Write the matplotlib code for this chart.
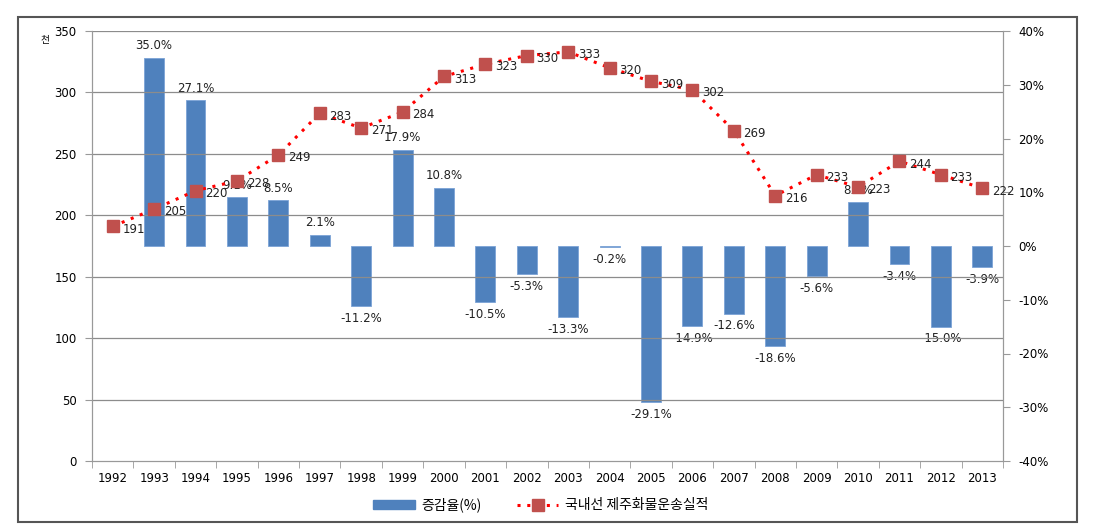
import matplotlib.pyplot as plt
import matplotlib.patches as mpatches
from matplotlib.lines import Line2D
import numpy as np

years = ['1992', '1993', '1994', '1995', '1996', '1997', '1998', '1999', '2000', '2001', '2002',
         '2003', '2004', '2005', '2006', '2007', '2008', '2009', '2010', '2011', '2012', '2013']
volume = [191, 205, 220, 228, 249, 283, 271, 284, 313, 323, 330,
          333, 320, 309, 302, 269, 216, 233, 223, 244, 233, 222]
# growth rate (%) from 1993 on
growth = [None, 35.0, 27.1, 9.1, 8.5, 2.1, -11.2, 17.9, 10.8, -10.5, -5.3,
          -13.3, -0.2, -29.1, -14.9, -12.6, -18.6, -5.6, 8.1, -3.4, -15.0, -3.9]

plt.rcParams['font.family'] = ['DejaVu Sans', 'Noto Sans CJK KR']
kfont = ['Noto Sans CJK KR', 'DejaVu Sans']

fig = plt.figure(figsize=(11.03, 5.31), dpi=100)
# outer frame
fig.patches.append(mpatches.Rectangle((18 / 1103, 1 - 522 / 531), 1059 / 1103, 505 / 531,
                                      transform=fig.transFigure, fill=False,
                                      edgecolor='#555555', linewidth=1.5))

ax = fig.add_axes([92 / 1103, 1 - 461 / 531, 911 / 1103, 430 / 531])
ax2 = ax.twinx()

x = np.arange(len(years))
gx = [i for i, g in enumerate(growth) if g is not None]
gv = [g for g in growth if g is not None]

# line on left axis, bars on right axis; draw line above bars
ax.set_zorder(2)
ax.patch.set_visible(False)

ax2.bar(gx, gv, width=0.48, color='#4F81BD', edgecolor='#7BA3D6', linewidth=0.6, zorder=2)
for i, g in zip(gx, gv):
    if g >= 0:
        ax2.annotate(f'{g:.1f}%', (i, g), xytext=(0, 4), textcoords='offset points',
                     ha='center', va='bottom', fontsize=8.5, color='#222222')
    else:
        ax2.annotate(f'{g:.1f}%', (i, g), xytext=(0, -4), textcoords='offset points',
                     ha='center', va='top', fontsize=8.5, color='#222222')

ax.plot(x, volume, color='#FF0000', linestyle=(0, (1, 2.2)), linewidth=2.2,
        marker='s', markersize=8, markerfacecolor='#C0504D', markeredgecolor='#C0504D', zorder=3)
for i, v in enumerate(volume):
    ax.annotate(str(v), (i, v), xytext=(7, -2), textcoords='offset points',
                ha='left', va='center', fontsize=8.5, color='#222222')

ax.set_ylim(0, 350)
ax.set_yticks(range(0, 351, 50))
ax2.set_ylim(-40, 40)
ax2.set_yticks(range(-40, 41, 10))
ax2.set_yticklabels([f'{t}%' for t in range(-40, 41, 10)])
ax.set_xlim(-0.5, len(years) - 0.5)
ax.set_xticks(x)
ax.set_xticklabels(years)
ax.set_xticks(np.arange(-0.5, len(years), 1), minor=True)
ax.tick_params(axis='x', which='major', length=0, pad=8, labelsize=8.5)
ax.tick_params(axis='x', which='minor', length=5, color='#999999', direction='out')
ax.tick_params(axis='y', length=5, color='#999999', labelsize=8.5, pad=6)
ax2.tick_params(axis='y', length=5, color='#999999', labelsize=8.5, pad=6)

for y in range(50, 351, 50):
    ax.axhline(y, color='#8C8C8C', linewidth=0.9, zorder=0)

for a in (ax, ax2):
    a.spines['top'].set_visible(False)
    a.spines['left'].set_color('#999999')
    a.spines['right'].set_color('#999999')
    a.spines['bottom'].set_color('#999999')

fig.text(40 / 1103, 1 - 40 / 531, '천', fontsize=7, family=kfont, ha='left', va='center')

handles = [mpatches.Patch(color='#4F81BD'),
           Line2D([], [], color='#FF0000', linestyle=(0, (1, 2.2)), linewidth=2.2,
                  marker='s', markersize=8, markerfacecolor='#C0504D', markeredgecolor='#C0504D')]
fig.legend(handles, ['증감율(%)', '국내선 제주화물운송실적'], loc='center',
           bbox_to_anchor=(541 / 1103, 1 - 505 / 531), ncol=2, frameon=False,
           prop={'family': kfont, 'size': 10}, handlelength=3.0, columnspacing=2.5,
           handleheight=0.6, handletextpad=0.5)

fig.savefig('out.png', dpi=100)
